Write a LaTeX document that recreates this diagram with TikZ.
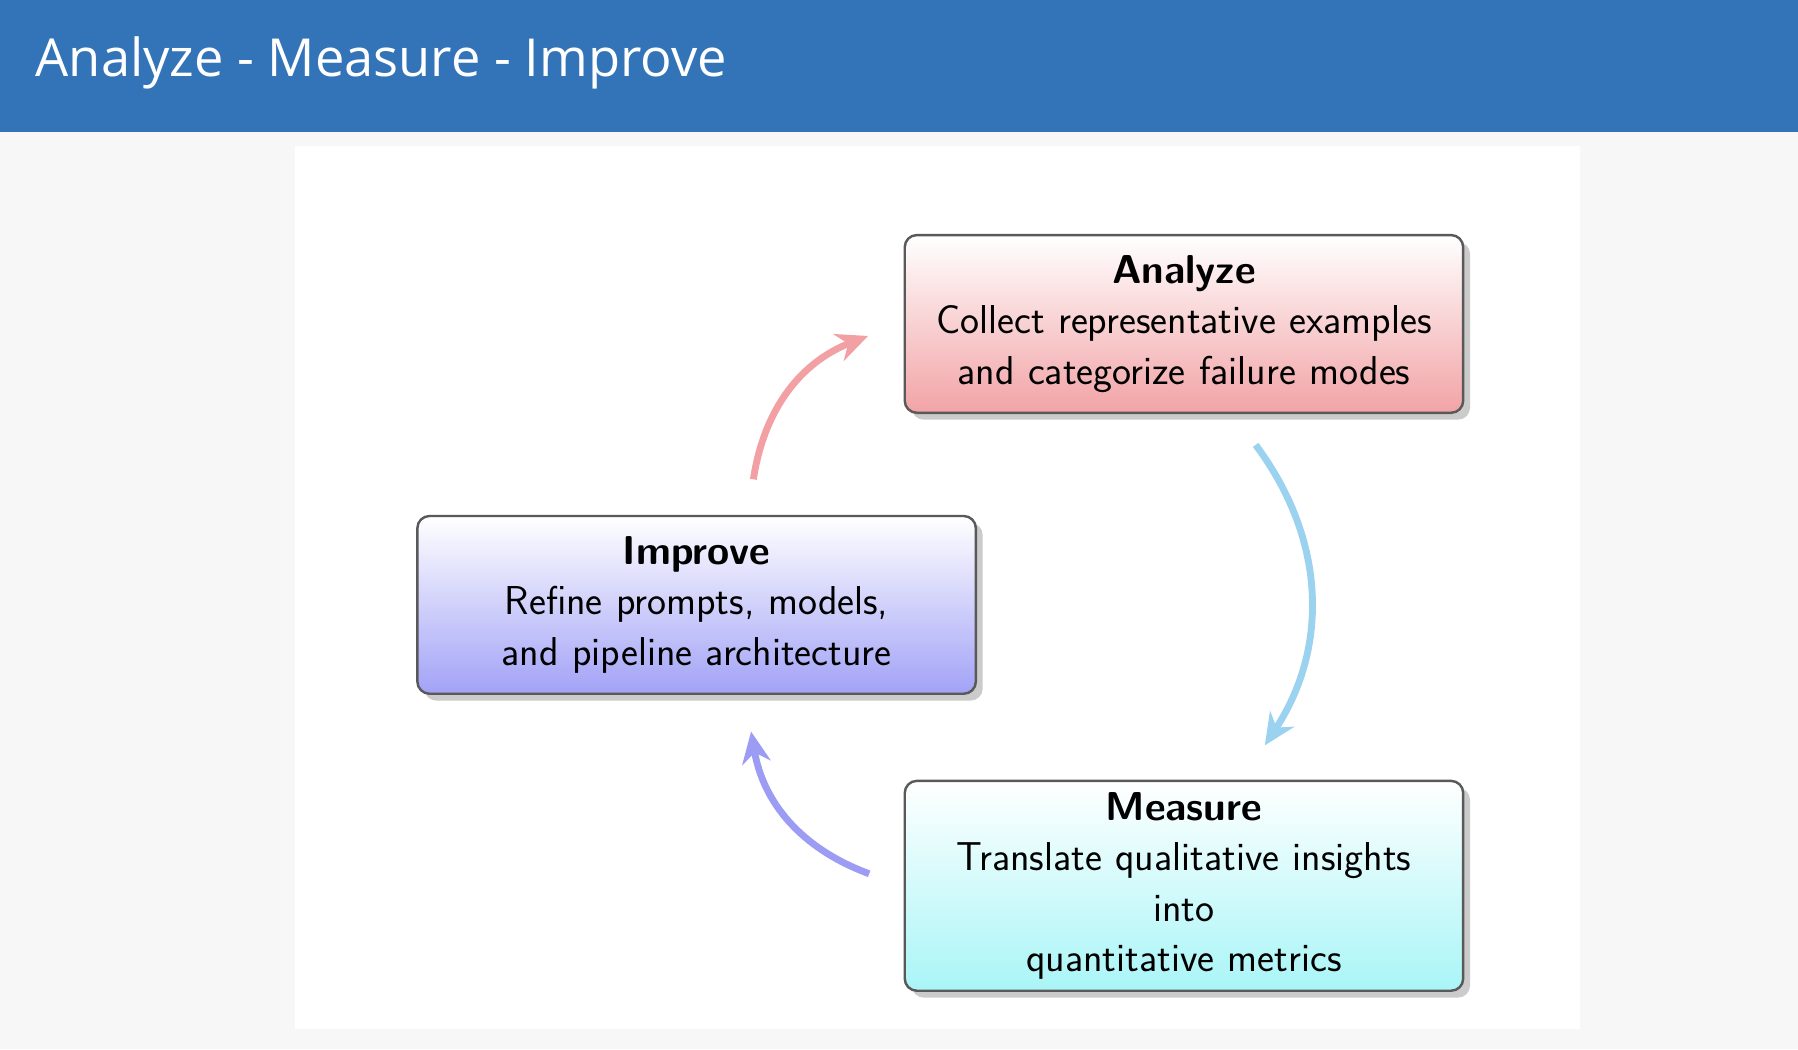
\documentclass[tikz,border=0pt]{standalone}
\usepackage{fontspec}
\newfontfamily\titlefont{Open Sans}
\usetikzlibrary{shadows,arrows.meta}
\definecolor{barblue}{HTML}{3374B8}
\definecolor{pagegray}{HTML}{F7F7F7}
\definecolor{anared}{HTML}{F2A3A6}
\definecolor{impviolet}{HTML}{A2A2F7}
\definecolor{meacyan}{HTML}{A9F5F7}
\definecolor{arrred}{HTML}{F2A0A3}
\definecolor{arrblue}{HTML}{9BD2F0}
\definecolor{arrviolet}{HTML}{9C9CF5}
\tikzset{
  stagebox/.style={draw=black!65, line width=1.2pt, rounded corners=6pt,
    minimum width=9.74cm, text width=9.3cm, align=center,
    font=\sffamily\fontsize{20}{25}\selectfont, top color=white,
    drop shadow={shadow xshift=0.12cm, shadow yshift=-0.12cm, fill=black!40}},
  cyclearrow/.style={line width=3.4pt, -{Stealth[length=0.55cm, width=0.5cm]}}
}
\begin{document}
\begin{tikzpicture}
  \useasboundingbox (0,0) rectangle (31.36,18.3);
  \fill[pagegray] (0,0) rectangle (31.36,18.3);
  \fill[barblue] (0,16) rectangle (31.36,18.3);
  \fill[white] (5.14,0.36) rectangle (27.56,15.76);
  \node[anchor=west, text=white, font=\titlefont\fontsize{26}{30}\selectfont] (title) at (0.5,17.2) {Analyze - Measure - Improve};

  \node[stagebox, bottom color=anared, minimum height=3.1cm] (analyze) at (20.65,12.65)
    {\textbf{Analyze}\\Collect representative examples\\and categorize failure modes};
  \node[stagebox, bottom color=impviolet, minimum height=3.1cm] (improve) at (12.15,7.75)
    {\textbf{Improve}\\Refine prompts, models,\\and pipeline architecture};
  \node[stagebox, bottom color=meacyan, minimum height=3.66cm] (measure) at (20.65,2.85)
    {\textbf{Measure}\\Translate qualitative insights\\into\\quantitative metrics};

  \coordinate (impout) at (13.14,9.94);
  \coordinate (anain) at (15.14,12.44);
  \coordinate (anaout) at (21.9,10.54);
  \coordinate (meain) at (22.06,5.3);
  \coordinate (meaout) at (15.16,3.06);
  \coordinate (impin) at (13.1,5.54);

  \draw[cyclearrow, arrred] (impout) to[bend left=30] (anain);
  \draw[cyclearrow, arrblue] (anaout) to[bend left=35] (meain);
  \draw[cyclearrow, arrviolet] (meaout) to[bend left=30] (impin);
\end{tikzpicture}
\end{document}
